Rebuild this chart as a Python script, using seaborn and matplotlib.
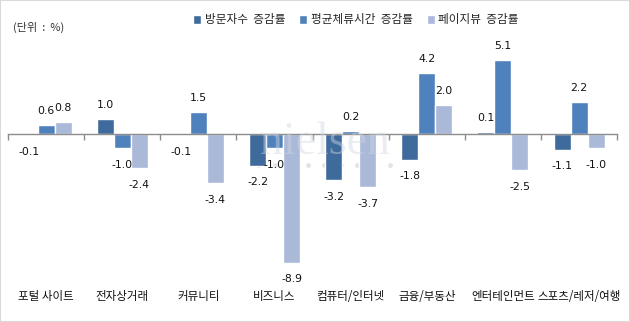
import matplotlib
matplotlib.use("Agg")
import matplotlib.pyplot as plt
import matplotlib.transforms as mtrans
from matplotlib.patches import Rectangle
from matplotlib.lines import Line2D
import seaborn as sns
import pandas as pd

categories = ["포털 사이트", "전자상거래", "커뮤니티", "비즈니스", "컴퓨터/인터넷",
              "금융/부동산", "엔터테인먼트", "스포츠/레저/여행"]
series_names = ["방문자수  증감률", "평균체류시간  증감률", "페이지뷰  증감률"]
visitors = [-0.1, 1.0, -0.1, -2.2, -3.2, -1.8, 0.1, -1.1]
dwell = [0.6, -1.0, 1.5, -1.0, 0.2, 4.2, 5.1, 2.2]
pageviews = [0.8, -2.4, -3.4, -8.9, -3.7, 2.0, -2.5, -1.0]
colors = ["#3F6A9C", "#4F81BD", "#AAB9D8"]

sns.set_theme(style="white")
plt.rcParams["font.family"] = ["Noto Sans CJK KR", "DejaVu Sans"]

rows = []
for vals, name in zip([visitors, dwell, pageviews], series_names):
    for c, v in zip(categories, vals):
        rows.append({"category": c, "series": name, "value": v})
df = pd.DataFrame(rows)

fig = plt.figure(figsize=(6.3, 3.22), dpi=100)
ax = fig.add_axes([0.0127, 0.13, 0.967, 0.73])
ax.patch.set_visible(False)
ax.set_zorder(2)

# faint watermark dots (behind bars)
n_dots = 9
dx = [(258 + 16.5 * i) / 630 for i in range(n_dots)]
fig.add_artist(Line2D(dx, [1 - 165 / 322] * n_dots, transform=fig.transFigure,
                      linestyle="none", marker="o", markersize=3.5,
                      markerfacecolor="#e3e3e3", markeredgecolor="none", zorder=0.5))

sns.barplot(data=df, x="category", y="value", hue="series", order=categories,
            hue_order=series_names, palette=colors, saturation=1, width=0.67,
            ax=ax, legend=True, zorder=2)

ax.set_ylim(-10.1, 6.1)
ax.set_xlim(-0.5, len(categories) - 0.5)
for s in ["top", "right", "left"]:
    ax.spines[s].set_visible(False)
ax.spines["bottom"].set_position(("data", 0))
ax.spines["bottom"].set_color("#8c8c8c")
ax.spines["bottom"].set_linewidth(1.0)
ax.spines["bottom"].set_zorder(3)
ax.set_yticks([])
ax.set_xticks([i - 0.5 for i in range(len(categories) + 1)])
ax.set_xticklabels([])
ax.tick_params(axis="x", direction="out", length=4, width=1, color="#8c8c8c", bottom=True)
ax.set_xlabel("")
ax.set_ylabel("")

# category labels at the bottom
trans = mtrans.blended_transform_factory(ax.transData, ax.transAxes)
for i, c in enumerate(categories):
    ax.text(i, -0.07, c, transform=trans, ha="center", va="center",
            fontsize=8.3, color="#111111")

# value labels
for cont in ax.containers:
    for bar in cont:
        h = bar.get_height()
        x = bar.get_x() + bar.get_width() / 2
        off = 10 if h >= 0 else -12
        ax.annotate(f"{h:.1f}", (x, h), xytext=(0, off), textcoords="offset points",
                    ha="center", va="center", fontsize=7.8, color="#111111",
                    family=["DejaVu Sans"], zorder=5)

# legend
handles, labels = ax.get_legend_handles_labels()
ax.get_legend().remove()
fig.legend(handles, labels, loc="center", bbox_to_anchor=(356 / 630, 1 - 20 / 322),
           ncol=3, frameon=False, fontsize=8.4, handlelength=0.7, handleheight=0.7,
           handletextpad=0.3, columnspacing=1.2)

fig.text(13 / 630, 1 - 27 / 322, "(단위  :  %)", fontsize=8, color="#333333",
         ha="left", va="center")

# faint watermark text
fig.text(325 / 630, 1 - 154 / 322, "nielsen", fontsize=33, family="Liberation Serif",
         color="#cfd6df", alpha=0.45, ha="center", va="baseline", zorder=10)

fig.patches.append(Rectangle((0, 0), 1, 1, transform=fig.transFigure, fill=False,
                             edgecolor="#d9d9d9", linewidth=1.5))

fig.savefig("out.png", dpi=100)
